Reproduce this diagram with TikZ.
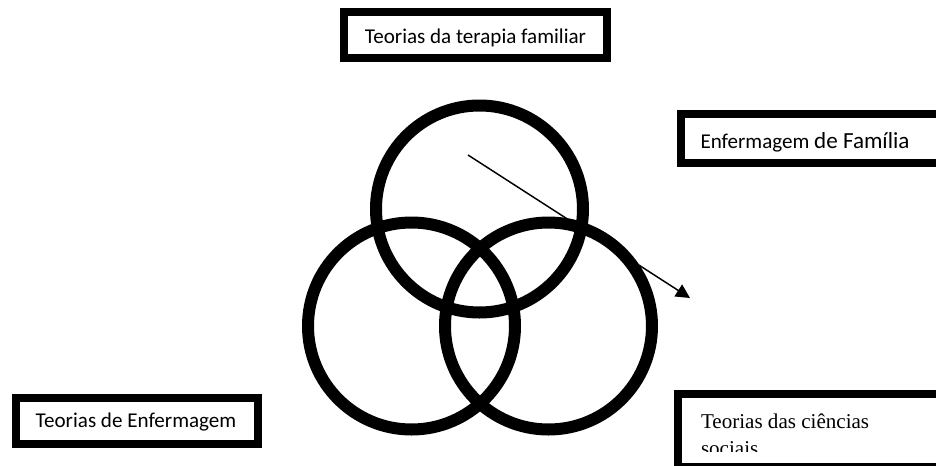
\documentclass[tikz,border=0pt]{standalone}
\usepackage{fontspec}
\setmainfont{Carlito}
\newfontfamily\timesfont{Liberation Serif}
\usetikzlibrary{arrows.meta}
\begin{document}
\begin{tikzpicture}[x=0.75pt,y=-0.75pt,
  framebox/.style={draw=black, line width=6pt, inner sep=0pt, outer sep=0pt, rectangle, fill=white},
  ring/.style={draw=black, line width=9pt, circle, inner sep=0pt, outer sep=0pt, minimum size=155.25pt},
  lbl/.style={inner sep=0pt, outer sep=0pt, font=\fontsize{15.8}{18}\selectfont, anchor=base},
  serif/.style={inner sep=0pt, outer sep=0pt, font=\timesfont\fontsize{15.8}{18}\selectfont, anchor=base west},
  pointer/.style={line width=1.1pt, -{Triangle[length=10.5pt,width=10.5pt]}}]
\useasboundingbox (0,0) rectangle (936,465);
\clip (0,0) rectangle (936,465);
% rings
\node[ring] (c1) at (479.5,209) {};
\node[ring] (c2) at (411.5,326) {};
\node[ring] (c3) at (548.5,326) {};
% arrow
\coordinate (p0) at (468,155);
\coordinate (p1) at (690,298);
\draw[pointer] (p0) -- (p1);
% top box
\node[framebox, minimum width=196.9pt, minimum height=34.5pt] (b1) at (475.75,34.5) {};
\node[lbl] (t1) at (475.5,43.3) {Teorias da terapia familiar};
% right upper box
\node[framebox, minimum width=194.25pt, minimum height=36.4pt] (b2) at (810.5,138.25) {};
\node[lbl, anchor=base west] (t2) at (700.5,148.3) {Enfermagem {\fontsize{17.3}{20}\selectfont de Família}};
% left box
\node[framebox, minimum width=181.5pt, minimum height=34.5pt] (b3) at (137,421) {};
\node[lbl] (t3) at (136,427.7) {Teorias de Enfermagem};
% right lower box
\node[framebox, minimum width=200.25pt, minimum height=55.1pt] (b4) at (811.5,430.25) {};
\begin{scope}
\clip (682,397) rectangle (936,451);
\node[serif] (t4a) at (701,428) {Teorias das ciências};
\node[serif] (t4b) at (701,455.5) {sociais};
\end{scope}
\end{tikzpicture}
\end{document}
